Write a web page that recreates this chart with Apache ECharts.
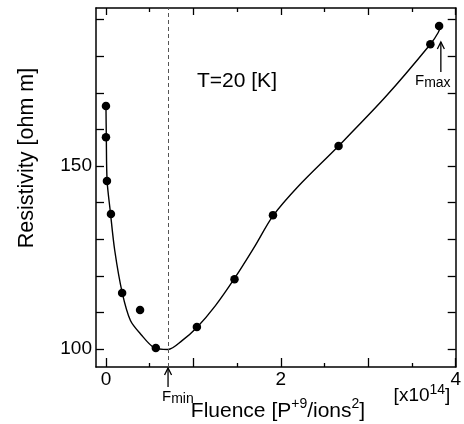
<!DOCTYPE html>
<html>
<head>
<meta charset="utf-8">
<script src="https://cdn.jsdelivr.net/npm/echarts@6/dist/echarts.min.js"></script>
<style>
  html, body { margin: 0; padding: 0; background: #fff; }
  #chart { width: 464px; height: 424px; }
</style>
</head>
<body>
<div id="chart"></div>
<script>
// measured points
const fluence = [0.0, 0.0, 0.011, 0.057, 0.185, 0.39, 0.57, 1.04, 1.47, 1.91, 2.66, 3.71, 3.81];
const resistivity = [166.4, 157.9, 145.9, 136.9, 115.3, 110.7, 100.3, 106.0, 119.1, 136.6, 155.5, 183.3, 188.3];

// fitted curve
const fitX = [0.0, 0.004, 0.013, 0.05, 0.1, 0.185, 0.28, 0.4, 0.55, 0.71, 0.87, 1.04, 1.25, 1.47, 1.7, 1.91, 2.2, 2.66, 3.2, 3.71, 3.8, 3.83];
const fitY = [166.4, 157.9, 146.0, 137.5, 127.0, 115.5, 107.8, 104.0, 100.4, 99.9, 102.3, 105.9, 111.8, 119.3, 128.0, 136.4, 144.5, 155.5, 169.0, 183.3, 186.5, 188.5];

const xMajorTicks = [0, 1, 2, 3, 4];
const xMinorTicks = [0.5, 1.5, 2.5, 3.5];
const xLabels = [0, 2, 4];
const yTicks = [100, 110, 120, 130, 140, 150, 160, 170, 180, 190];
const yLabels = [100, 150];

const fMin = 0.71;
const fMaxArrow = [3.83, 175.7, 183.9];

const xMin = -0.114, xMax = 4;
const yMin = 95.1, yMax = 193.2;
const font = 'Liberation Sans, Arial, sans-serif';

var chart = echarts.init(document.getElementById('chart'));

function xAxisDef(pos, ticks, len, showLine, labels) {
    return {
        type: 'value',
        position: pos,
        min: xMin,
        max: xMax,
        splitLine: {show: false},
        axisLine: {show: showLine, onZero: false, lineStyle: {color: '#000', width: 1.5}},
        axisTick: {show: true, inside: true, length: len, customValues: ticks, lineStyle: {color: '#000', width: 1.3}},
        axisLabel: labels ? {
            show: true, customValues: labels, margin: 3,
            color: '#000', fontSize: 19, fontFamily: font
        } : {show: false}
    };
}

function yAxisDef(pos, showLabels) {
    return {
        type: 'value',
        position: pos,
        min: yMin,
        max: yMax,
        splitLine: {show: false},
        axisLine: {show: true, onZero: false, lineStyle: {color: '#000', width: 1.5}},
        axisTick: {show: true, inside: true, length: 8, customValues: yTicks, lineStyle: {color: '#000', width: 1.3}},
        axisLabel: showLabels ? {
            show: true, customValues: yLabels, margin: 4,
            color: '#000', fontSize: 19, fontFamily: font
        } : {show: false}
    };
}

let option = {
    animation: false,
    grid: {left: 96, right: 8, top: 8, bottom: 57},
    xAxis: [
        xAxisDef('bottom', xMajorTicks, 9, true, xLabels),
        xAxisDef('bottom', xMinorTicks, 4, false, null),
        xAxisDef('top', xMajorTicks, 7, true, null),
        xAxisDef('top', xMinorTicks, 4, false, null)
    ],
    yAxis: [
        yAxisDef('left', true),
        yAxisDef('right', false)
    ],
    series: [
        {
            type: 'line',
            data: fitX.map((x, i) => [x, fitY[i]]),
            smooth: 0.3,
            showSymbol: false,
            lineStyle: {color: '#000', width: 1.4},
            markLine: {
                silent: true,
                symbol: 'none',
                label: {show: false},
                lineStyle: {color: '#555', type: [4, 3], width: 1},
                data: [{xAxis: fMin}]
            }
        },
        {
            type: 'scatter',
            data: fluence.map((x, i) => [x, resistivity[i]]),
            symbolSize: 8.5,
            itemStyle: {color: '#000', opacity: 1}
        }
    ]
};

chart.setOption(option);

// annotations
let pMin = chart.convertToPixel({gridIndex: 0}, [fMin, yMin]);
let pA = chart.convertToPixel({gridIndex: 0}, [fMaxArrow[0], fMaxArrow[1]]);
let pB = chart.convertToPixel({gridIndex: 0}, [fMaxArrow[0], fMaxArrow[2]]);

function arrow(x, y0, y1) {
    return [
        {type: 'line', shape: {x1: x, y1: y0, x2: x, y2: y1}, style: {stroke: '#000', lineWidth: 1.3}},
        {type: 'polyline', shape: {points: [[x - 3.5, y1 + 7], [x, y1], [x + 3.5, y1 + 7]]}, style: {stroke: '#000', fill: null, lineWidth: 1.3}}
    ];
}

const richSub = {
    b: {fontSize: 15, fontFamily: font, color: '#000'},
    s: {fontSize: 14, fontFamily: font, color: '#000', padding: [5, 0, 0, 0]}
};
const richSup = {
    b: {fontSize: 21, fontFamily: font, color: '#000', lineHeight: 27},
    s: {fontSize: 14, fontFamily: font, color: '#000', verticalAlign: 'top', lineHeight: 27}
};

chart.setOption({
    graphic: [
        ...arrow(pMin[0], pMin[1] + 20, pMin[1] + 1),
        ...arrow(pA[0], pA[1], pB[1]),
        {
            type: 'text', x: 27, y: 158, rotation: Math.PI / 2,
            style: {text: 'Resistivity [ohm m]', fontSize: 21.5, fontFamily: font, fill: '#000', align: 'center', verticalAlign: 'middle'}
        },
        {
            type: 'text', x: 278, y: 411,
            style: {text: '{b|Fluence [P}{s|+9}{b|/ions}{s|2}{b|]}', rich: richSup, align: 'center', verticalAlign: 'middle'}
        },
        {
            type: 'text', x: 422, y: 396,
            style: {text: '{b|[x10}{s|14}{b|]}', rich: {
                b: {fontSize: 19, fontFamily: font, color: '#000', lineHeight: 25},
                s: {fontSize: 14, fontFamily: font, color: '#000', verticalAlign: 'top', lineHeight: 25}
            }, align: 'center', verticalAlign: 'middle'}
        },
        {
            type: 'text', x: 197, y: 81,
            style: {text: 'T=20 [K]', fontSize: 21, fontFamily: font, fill: '#000', align: 'left', verticalAlign: 'middle'}
        },
        {
            type: 'text', x: pMin[0] - 6, y: pMin[1] + 30,
            style: {text: '{b|F}{s|min}', rich: richSub, align: 'left', verticalAlign: 'middle'}
        },
        {
            type: 'text', x: 415, y: 81,
            style: {text: '{b|F}{s|max}', rich: richSub, align: 'left', verticalAlign: 'middle'}
        }
    ]
});
</script>
</body>
</html>
